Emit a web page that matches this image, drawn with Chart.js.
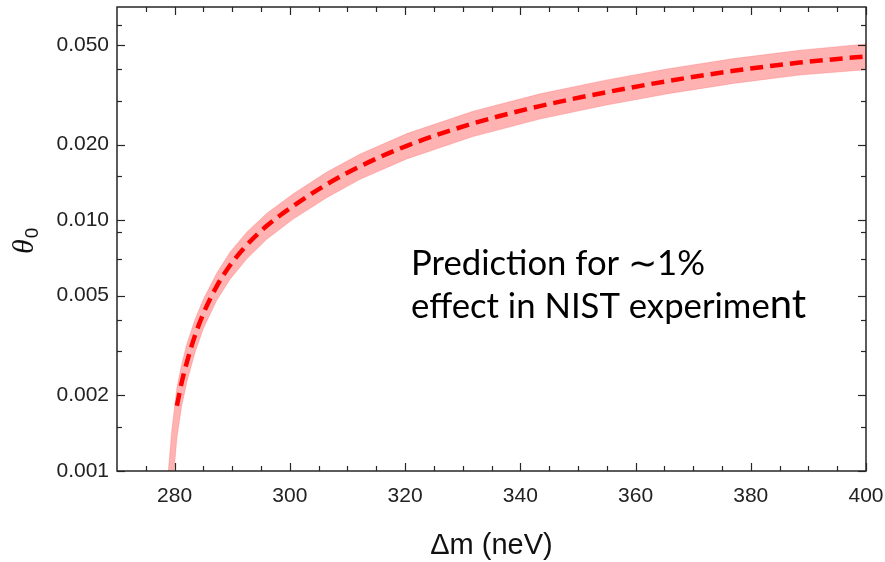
<!DOCTYPE html>
<html><head><meta charset="utf-8">
<script src="https://cdn.jsdelivr.net/npm/chart.js@4/dist/chart.umd.min.js"></script>
<style>html,body{margin:0;padding:0;background:#fff}#wrap{width:885px;height:562px;position:relative}</style>
</head><body><div id="wrap"><canvas id="c" width="885" height="562"></canvas></div>
<script>
// Central prediction (dashed line)
const deltaM = [280.4, 281.2, 282.1, 283.5, 285.0, 287.3, 289.6, 292.5, 296.0, 300.6, 306.4, 312.2, 320.3, 331.8, 343.4, 355.0, 365.4, 377.0, 388.5, 400.0];
const theta0 = [0.00182, 0.00224, 0.00270, 0.00345, 0.00425, 0.00545, 0.00660, 0.00795, 0.00950, 0.01140, 0.01390, 0.01640, 0.01980, 0.02430, 0.02850, 0.03240, 0.03580, 0.03940, 0.04250, 0.04500];
// Uncertainty band edges
const upperX = [278.9, 279.5, 280.4, 281.2, 282.1, 283.5, 285.0, 287.3, 289.6, 292.5, 296.0, 300.6, 306.4, 312.2, 320.3, 331.8, 343.4, 355.0, 365.4, 377.0, 388.5, 400.0];
const upperY = [0.00100, 0.00145, 0.00215, 0.00265, 0.00320, 0.00400, 0.00485, 0.00615, 0.00745, 0.00895, 0.01065, 0.01275, 0.01555, 0.01835, 0.02215, 0.02720, 0.03190, 0.03625, 0.04005, 0.04410, 0.04760, 0.05040];
const lowerX = [279.9, 280.4, 281.2, 282.1, 283.5, 285.0, 287.3, 289.6, 292.5, 296.0, 300.6, 306.4, 312.2, 320.3, 331.8, 343.4, 355.0, 365.4, 377.0, 388.5, 400.0];
const lowerY = [0.00100, 0.00135, 0.00180, 0.00225, 0.00295, 0.00370, 0.00478, 0.00580, 0.00700, 0.00840, 0.01010, 0.01230, 0.01455, 0.01755, 0.02155, 0.02530, 0.02880, 0.03185, 0.03510, 0.03790, 0.03980];
// Ticks
const xTickLabels = [280, 300, 320, 340, 360, 380, 400];
const xMinorTicks = [275, 285, 290, 295, 305, 310, 315, 325, 330, 335, 345, 350, 355, 365, 370, 375, 385, 390, 395];
const yTickLabels = [0.001, 0.002, 0.005, 0.010, 0.020, 0.050];
const yMinorTicks = [0.0015, 0.003, 0.004, 0.007, 0.009, 0.015, 0.03, 0.04, 0.06];
const xTitle = 'Δm (neV)';
const yTitleMain = 'θ';
const yTitleSub = '0';
const noteLine1 = 'Prediction for ∼1%';
const noteLine2a = 'effect in NIST experime';
const noteLine2b = 'nt';

const centerPts = deltaM.map((x, i) => ({x, y: theta0[i]}));
const bandPts = upperX.map((x, i) => ({x, y: upperY[i]}))
  .concat(lowerX.map((x, i) => ({x, y: lowerY[i]})).reverse());

const AX = '#262626';
const FONT = "'Liberation Sans', Arial, sans-serif";
const NOTEFONT = "Lato, 'Open Sans', sans-serif";

const framePlugin = {
  id: 'frame',
  afterDatasetsDraw(chart) {
    const {ctx, chartArea: {left, right, top, bottom}, scales: {x, y}} = chart;
    ctx.save();
    ctx.strokeStyle = AX;
    ctx.lineWidth = 1.2;
    const tick = (x1, y1, x2, y2) => { ctx.beginPath(); ctx.moveTo(x1, y1); ctx.lineTo(x2, y2); ctx.stroke(); };
    xTickLabels.forEach(v => { const p = Math.round(x.getPixelForValue(v)) + 0.5; tick(p, bottom, p, bottom - 8); tick(p, top, p, top + 8); });
    xMinorTicks.forEach(v => { const p = Math.round(x.getPixelForValue(v)) + 0.5; tick(p, bottom, p, bottom - 5); tick(p, top, p, top + 5); });
    yTickLabels.forEach(v => { const p = Math.round(y.getPixelForValue(v)) + 0.5; tick(left, p, left + 8, p); tick(right, p, right - 8, p); });
    yMinorTicks.forEach(v => { const p = Math.round(y.getPixelForValue(v)) + 0.5; tick(left, p, left + 5, p); tick(right, p, right - 5, p); });
    ctx.lineWidth = 1.5;
    ctx.strokeRect(left, top, right - left, bottom - top);
    ctx.restore();
  },
  afterDraw(chart) {
    const {ctx} = chart;
    ctx.save();
    // y title
    ctx.fillStyle = '#111';
    ctx.translate(33, 254);
    ctx.rotate(-Math.PI / 2);
    ctx.textBaseline = 'alphabetic';
    ctx.textAlign = 'left';
    ctx.font = "italic 30px 'Liberation Serif', serif";
    ctx.fillText(yTitleMain, 0, 0);
    const w = ctx.measureText(yTitleMain).width;
    ctx.font = "19px " + FONT;
    ctx.fillText(yTitleSub, w + 1, 5);
    ctx.restore();
    // annotation: size chosen so the first line spans the reference width
    ctx.save();
    ctx.fillStyle = '#000';
    ctx.textBaseline = 'alphabetic';
    ctx.textAlign = 'left';
    ctx.font = "28px " + NOTEFONT;
    const size = 28 * 294 / ctx.measureText(noteLine1).width;
    ctx.font = size.toFixed(1) + "px " + NOTEFONT;
    ctx.fillText(noteLine1, 411, 275);
    ctx.fillText(noteLine2a, 411, 318);
    const w2 = ctx.measureText(noteLine2a).width;
    ctx.font = (size * 1.15).toFixed(1) + "px " + NOTEFONT;
    ctx.fillText(noteLine2b, 411 + w2, 318);
    ctx.restore();
  }
};

new Chart(document.getElementById('c'), {
  type: 'scatter',
  data: {
    datasets: [
      {
        data: bandPts, showLine: true, fill: 'shape', tension: 0,
        backgroundColor: 'rgba(255,0,0,0.30)', borderColor: 'rgba(255,60,60,0.22)', borderWidth: 1,
        pointRadius: 0, order: 2
      },
      {
        data: centerPts, showLine: true, fill: false, cubicInterpolationMode: 'monotone',
        borderColor: '#ff0000', borderWidth: 4.5, borderDash: [13, 7], borderCapStyle: 'butt',
        pointRadius: 0, order: 1
      }
    ]
  },
  options: {
    responsive: false, devicePixelRatio: 1, animation: false,
    layout: {padding: {left: 0, right: 19, top: 7, bottom: 0}},
    plugins: {legend: {display: false}, tooltip: {enabled: false}},
    scales: {
      x: {
        type: 'linear', min: 270, max: 400,
        afterBuildTicks: s => { s.ticks = xTickLabels.map(v => ({value: v})); },
        afterFit: s => { s.height = 91; s.paddingLeft = 0; s.paddingRight = 0; s.paddingTop = 0; s.paddingBottom = 0; },
        grid: {display: false, drawTicks: false}, border: {display: false},
        ticks: {font: {family: FONT, size: 21}, color: '#222', padding: 13, maxRotation: 0, autoSkip: false},
        title: {display: true, text: xTitle, font: {family: FONT, size: 29, lineHeight: 1.1}, color: '#111', padding: {top: 0, bottom: 0}}
      },
      y: {
        type: 'logarithmic', min: 0.001, max: 0.0708,
        afterBuildTicks: s => { s.ticks = yTickLabels.map(v => ({value: v})); },
        afterFit: s => { s.width = 117; s.paddingLeft = 0; s.paddingRight = 0; s.paddingTop = 0; s.paddingBottom = 0; },
        grid: {display: false, drawTicks: false}, border: {display: false},
        ticks: {font: {family: FONT, size: 21}, color: '#222', padding: 8, autoSkip: false, callback: v => Number(v).toFixed(3)}
      }
    }
  },
  plugins: [framePlugin]
});
</script></body></html>
